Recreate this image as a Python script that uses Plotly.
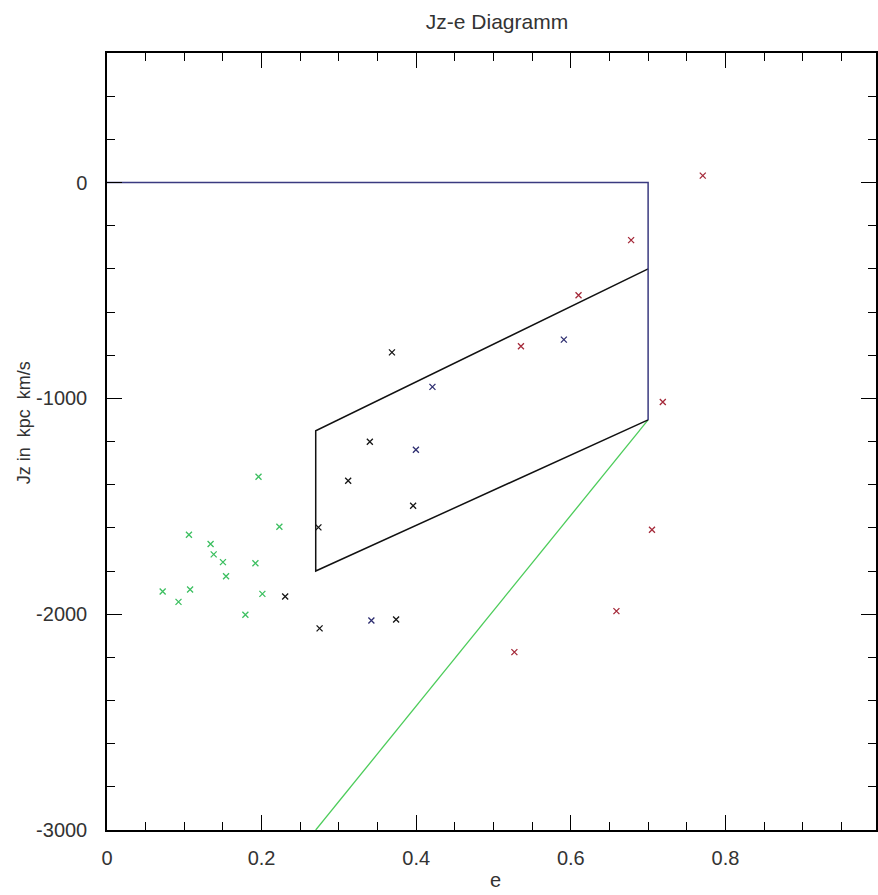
import plotly.graph_objects as go

# ---- data ----
green_e = [0.196, 0.223, 0.106, 0.134, 0.138, 0.150, 0.192, 0.154, 0.072, 0.1075, 0.0925, 0.201, 0.179]
green_jz = [-1363, -1595, -1632, -1675, -1723, -1759, -1764, -1824, -1895, -1886, -1943, -1906, -2003]

black_e = [0.2305, 0.275, 0.2735, 0.312, 0.340, 0.396, 0.374, 0.3686]
black_jz = [-1918, -2066, -1598, -1382, -1201, -1498, -2025, -787]

blue_e = [0.591, 0.421, 0.342, 0.3996]
blue_jz = [-728, -947, -2029, -1238]

red_e = [0.7707, 0.678, 0.610, 0.5355, 0.719, 0.705, 0.659, 0.527]
red_jz = [32, -267, -522, -759, -1017, -1609, -1986, -2176]

# boundary lines
blue_line_e = [0, 0.7, 0.7]
blue_line_jz = [0, 0, -1100]
box_e = [0.7, 0.27, 0.27, 0.7]
box_jz = [-400, -1150, -1800, -1100]
green_line_e = [0.7, 0.27]
green_line_jz = [-1100, -3000]

x_ticks = [0, 0.2, 0.4, 0.6, 0.8, 1.0]
x_ticklabels = ["0", "0.2", "0.4", "0.6", "0.8", "1"]
y_ticks = [0, -1000, -2000, -3000]
y_ticklabels = ["0", "-1000", "-2000", "-3000"]

FONT = "Liberation Sans, Arial, sans-serif"
TXT = "#333333"

fig = go.Figure()
fig.add_trace(go.Scatter(x=green_line_e, y=green_line_jz, mode="lines",
                         line=dict(color="#4ccc5a", width=1.3), showlegend=False))
fig.add_trace(go.Scatter(x=box_e, y=box_jz, mode="lines",
                         line=dict(color="#111111", width=1.5), showlegend=False))
fig.add_trace(go.Scatter(x=blue_line_e, y=blue_line_jz, mode="lines",
                         line=dict(color="#3a3a80", width=1.5), showlegend=False))

def pts(x, y, c):
    fig.add_trace(go.Scatter(x=x, y=y, mode="markers", showlegend=False,
                             marker=dict(symbol="x-thin", size=6,
                                         line=dict(color=c, width=1.3))))

pts(green_e, green_jz, "#3cbf60")
pts(black_e, black_jz, "#151515")
pts(blue_e, blue_jz, "#2e2e70")
pts(red_e, red_jz, "#a52a3a")

axis_common = dict(showgrid=False, zeroline=False, showline=True, linecolor="black",
                   linewidth=1.5, mirror="ticks", ticks="inside", ticklen=15,
                   tickcolor="black", tickwidth=1,
                   tickfont=dict(family=FONT, size=20, color=TXT))

fig.update_xaxes(range=[0, 0.9948], tickvals=x_ticks, ticktext=x_ticklabels,
                 minor=dict(dtick=0.05, ticks="inside", ticklen=8, tickcolor="black"),
                 ticklabelstandoff=9, **axis_common)
fig.update_yaxes(range=[-3000, 600], tickvals=y_ticks, ticktext=y_ticklabels,
                 minor=dict(dtick=200, ticks="inside", ticklen=8, tickcolor="black"),
                 ticklabelstandoff=14, **axis_common)

fig.update_layout(
    width=878, height=895,
    margin=dict(l=107, r=0, t=53, b=65),
    paper_bgcolor="white", plot_bgcolor="white",
    title=dict(text="Jz-e Diagramm", x=497 / 878, xanchor="center",
               y=1 - 22 / 895, yanchor="middle", yref="container",
               font=dict(family=FONT, size=21, color=TXT)),
    annotations=[
        dict(text="e", xref="paper", yref="paper", x=(497 - 107) / 771, y=-(880 - 830) / 777,
             xanchor="center", yanchor="middle", showarrow=False,
             font=dict(family=FONT, size=20, color=TXT)),
        dict(text="Jz in  kpc  km/s", xref="paper", yref="paper", x=-(107 - 24) / 771,
             y=(830 - 423) / 777, xanchor="center", yanchor="middle", textangle=-90,
             showarrow=False, font=dict(family=FONT, size=18, color=TXT)),
    ],
)

fig.write_html("out.html")
